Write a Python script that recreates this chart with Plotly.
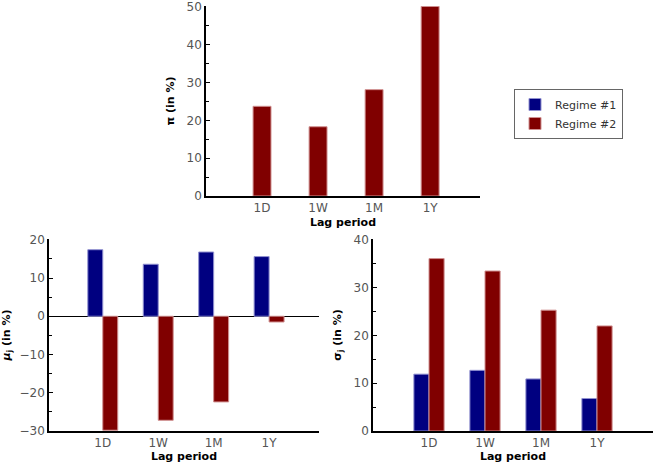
import plotly.graph_objects as go

lags = ["1D", "1W", "1M", "1Y"]
pi_regime2 = [23.7, 18.3, 28.1, 50.1]
mu_regime1 = [17.4, 13.6, 16.8, 15.6]
mu_regime2 = [-29.8, -27.2, -22.4, -1.5]
sigma_regime1 = [11.9, 12.7, 10.9, 6.8]
sigma_regime2 = [36.1, 33.5, 25.3, 22.0]

BLUE = "#000080"
RED = "#800000"
FONT = "DejaVu Sans"
W, H = 654, 463

fig = go.Figure()

fig.add_trace(go.Bar(x=lags, y=pi_regime2, name="Regime #2", marker=dict(color=RED, line=dict(color="#d09090", width=1)),
                     width=0.32, xaxis="x", yaxis="y", showlegend=False, legendgroup="r2"))
fig.add_trace(go.Bar(x=lags, y=mu_regime1, name="Regime #1", marker=dict(color=BLUE, line=dict(color="#9090d0", width=1)),
                     xaxis="x2", yaxis="y2", legendgroup="r1", offsetgroup="a"))
fig.add_trace(go.Bar(x=lags, y=mu_regime2, name="Regime #2", marker=dict(color=RED, line=dict(color="#d09090", width=1)),
                     xaxis="x2", yaxis="y2", legendgroup="r2", offsetgroup="b"))
fig.add_trace(go.Bar(x=lags, y=sigma_regime1, name="Regime #1", marker=dict(color=BLUE, line=dict(color="#9090d0", width=1)),
                     xaxis="x3", yaxis="y3", showlegend=False, legendgroup="r1", offsetgroup="a"))
fig.add_trace(go.Bar(x=lags, y=sigma_regime2, name="Regime #2", marker=dict(color=RED, line=dict(color="#d09090", width=1)),
                     xaxis="x3", yaxis="y3", showlegend=False, legendgroup="r2", offsetgroup="b"))

def px_x(p):
    return p / W

def px_y(p):
    return 1 - p / H

tickfont = dict(family=FONT, size=12, color="#555555")
titlefont = dict(family=FONT, size=11, color="black")

def xaxis(domain, anchor, rng, standoff):
    return dict(domain=domain, anchor=anchor, type="category", range=rng,
                showline=True, linecolor="black", linewidth=1.5, ticks="", showgrid=False,
                zeroline=False, tickfont=tickfont,
                title=dict(text="<b>Lag period</b>", font=titlefont, standoff=standoff), automargin=False)

def yaxis(domain, anchor, rng, dtick, title, zeroline=False):
    return dict(domain=domain, anchor=anchor, range=rng, dtick=dtick,
                showline=True, linecolor="black", linewidth=1.5, ticks="inside", ticklen=4,
                tickcolor="black", showgrid=False, tickfont=tickfont, ticklabeloverflow="allow",
                minor=dict(ticks="inside", ticklen=3, dtick=dtick / 2, tickcolor="black"),
                zeroline=zeroline, zerolinecolor="black", zerolinewidth=1,
                title=dict(text=title, font=titlefont, standoff=10), automargin=False)

fig.update_layout(
    width=W, height=H,
    margin=dict(l=0, r=0, t=0, b=0),
    paper_bgcolor="white", plot_bgcolor="white",
    barmode="group", bargap=0.46, bargroupgap=0,
    font=dict(family=FONT),
    xaxis=xaxis([px_x(206), px_x(480)], "y", [-1, 3.89], 4),
    yaxis=yaxis([px_y(196), px_y(6)], "x", [0, 50.2], 10, "<b>π (in %)</b>"),
    xaxis2=xaxis([px_x(49), px_x(319)], "y2", [-0.97, 3.9], 6),
    yaxis2=yaxis([px_y(431), px_y(239)], "x2", [-30, 20.2], 10, "<b><i>μ</i><sub>j</sub> (in %)</b>", zeroline=True),
    xaxis3=xaxis([px_x(373), px_x(653)], "y3", [-1, 4], 6),
    yaxis3=yaxis([px_y(431), px_y(239)], "x3", [0, 40.2], 10, "<b>σ<sub>j</sub> (in %)</b>"),
    legend=dict(x=px_x(514), y=px_y(89), xanchor="left", yanchor="top",
                bordercolor="#666666", borderwidth=1, bgcolor="white",
                font=dict(family=FONT, size=11, color="#333333"),
                itemwidth=30, tracegroupgap=0, traceorder="normal"),
)

fig.write_html("out.html", config={"displayModeBar": False},
               post_script="document.body.style.margin='0px';")
